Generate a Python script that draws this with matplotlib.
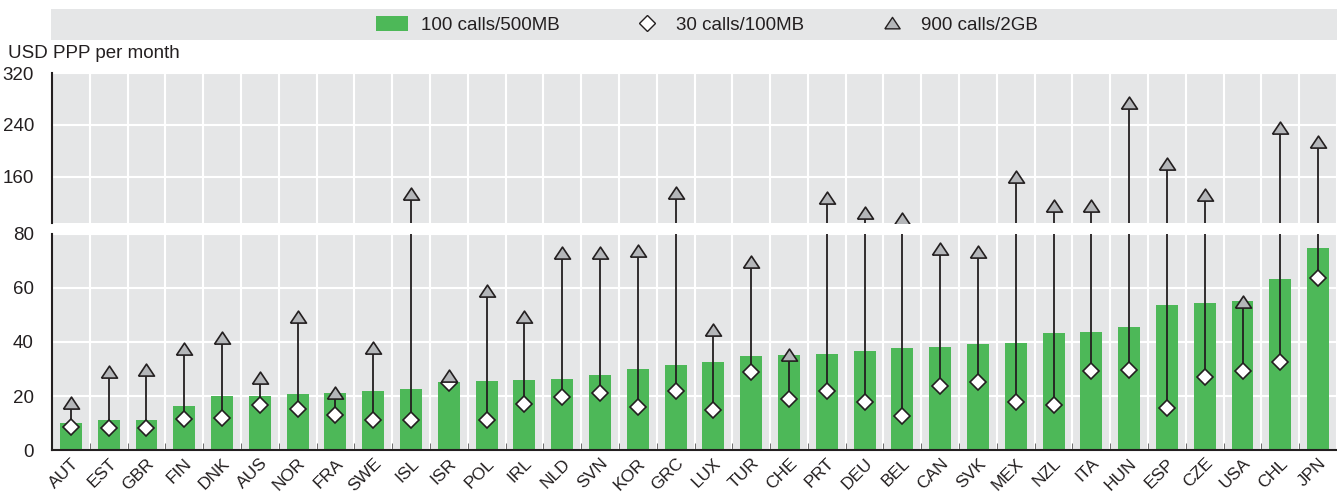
import matplotlib
matplotlib.use("Agg")
import matplotlib.pyplot as plt
import numpy as np
from matplotlib.patches import Rectangle
from matplotlib.lines import Line2D

plt.rcParams['font.family'] = ['Liberation Sans', 'DejaVu Sans']

countries = ["AUT", "EST", "GBR", "FIN", "DNK", "AUS", "NOR", "FRA", "SWE", "ISL",
             "ISR", "POL", "IRL", "NLD", "SVN", "KOR", "GRC", "LUX", "TUR", "CHE",
             "PRT", "DEU", "BEL", "CAN", "SVK", "MEX", "NZL", "ITA", "HUN", "ESP",
             "CZE", "USA", "CHL", "JPN"]
basket_100 = [10.0, 11.1, 11.1, 16.3, 20.0, 20.0, 20.7, 21.1, 21.9, 22.6,
              25.2, 25.6, 25.9, 26.3, 27.8, 30.0, 31.5, 32.6, 34.8, 35.2,
              35.6, 36.7, 37.8, 38.1, 39.3, 39.6, 43.3, 43.7, 45.6, 53.7,
              54.4, 55.2, 63.3, 74.8]
basket_30 = [8.6, 8.1, 8.1, 11.4, 11.7, 16.8, 15.3, 13.0, 11.1, 11.1,
             25.0, 11.1, 17.0, 19.8, 21.2, 15.8, 21.7, 14.9, 29.0, 19.0,
             22.0, 17.8, 12.7, 23.6, 25.1, 17.8, 16.7, 29.3, 29.8, 15.6,
             26.9, 29.1, 32.5, 63.6]
basket_900 = [17.5, 29.0, 29.6, 37.5, 41.5, 26.8, 49.4, 21.0, 37.7, 133.6,
              27.4, 59.0, 49.3, 73.1, 72.9, 73.8, 135.0, 44.6, 69.8, 35.2,
              128.0, 104.0, 95.0, 74.3, 73.3, 159.2, 115.6, 115.6, 273.1, 180.0,
              132.8, 54.9, 235.4, 214.4]
legend_labels = ["100 calls/500MB", "30 calls/100MB", "900 calls/2GB"]

W, H = 1337, 494
fig = plt.figure(figsize=(W / 100, H / 100), dpi=100)

bg = '#E5E6E7'
green = '#4DB858'
tri_gray = '#B4B6B9'
dark = '#231F20'
fs = 13.5

def fx(px):
    return px / W

def fy(py):
    return 1 - py / H

ax_lo = fig.add_axes([fx(52), fy(450), 1 - fx(52), fy(234) - fy(450)])
ax_hi = fig.add_axes([fx(52), fy(223), 1 - fx(52), fy(73) - fy(223)], sharex=ax_lo)

x = np.arange(len(countries))
tri = [(-1, -0.7), (1, -0.7), (0, 0.8), (-1, -0.7)]

for ax in (ax_lo, ax_hi):
    ax.set_facecolor(bg)
    ax.bar(x, basket_100, width=0.58, color=green, zorder=2)
    ax.vlines(x, basket_30, basket_900, color=dark, lw=1.3, zorder=3)
    ax.plot(x, basket_30, ls='none', marker='D', ms=8, mfc='white', mec=dark,
            mew=1.2, zorder=4)
    ax.plot(x, basket_900, ls='none', marker=tri, ms=11.5, mfc=tri_gray, mec=dark,
            mew=1.2, zorder=5)
    ax.set_xticks(x + 0.5, minor=True)
    ax.grid(True, which='minor', axis='x', color='white', lw=1.5, zorder=1)
    ax.grid(True, which='major', axis='y', color='white', lw=1.5, zorder=1)
    ax.set_axisbelow(True)
    for s in ('top', 'right'):
        ax.spines[s].set_visible(False)
    ax.spines['left'].set_color(dark)
    ax.spines['left'].set_linewidth(1.5)
    ax.tick_params(axis='y', length=0, pad=13, labelsize=fs, labelcolor=dark)

ax_lo.set_xlim(-0.5, len(countries) - 0.5)
ax_lo.set_ylim(0, 80)
ax_lo.set_yticks([0, 20, 40, 60, 80])
ax_lo.spines['bottom'].set_color(dark)
ax_lo.spines['bottom'].set_linewidth(1.5)
ax_lo.set_xticks(x)
ax_lo.set_xticklabels(countries, rotation=45, ha='right', va='top',
                      rotation_mode='anchor', fontsize=12.5, color=dark)
ax_lo.tick_params(axis='x', which='major', length=0, pad=4)
ax_lo.tick_params(axis='x', which='minor', length=5, direction='in', color='#555555')

ax_hi.set_ylim(89, 320)
ax_hi.set_yticks([160, 240, 320])
ax_hi.spines['bottom'].set_visible(False)
ax_hi.tick_params(axis='x', which='both', length=0, labelbottom=False)

# legend band
fig.patches.append(Rectangle((fx(51), fy(40)), 1 - fx(51), fy(9) - fy(40),
                             transform=fig.transFigure, facecolor=bg, edgecolor='none',
                             zorder=0))
handles = [
    Rectangle((0, 0), 1, 1, facecolor=green, edgecolor='none'),
    Line2D([], [], ls='none', marker='D', ms=8, mfc='white', mec=dark, mew=1.0),
    Line2D([], [], ls='none', marker=tri, ms=11, mfc=tri_gray, mec=dark, mew=1.0),
]
fig.legend(handles, legend_labels, loc='center', bbox_to_anchor=(fx(707), fy(25)),
           ncol=3, frameon=False, fontsize=fs, handlelength=1.7, handleheight=0.9,
           handletextpad=0.7, columnspacing=3.8, labelcolor=dark)

fig.text(fx(8), fy(54), "USD PPP per month", fontsize=fs, va='center', ha='left',
         color=dark)

fig.savefig("out.png", dpi=100)
